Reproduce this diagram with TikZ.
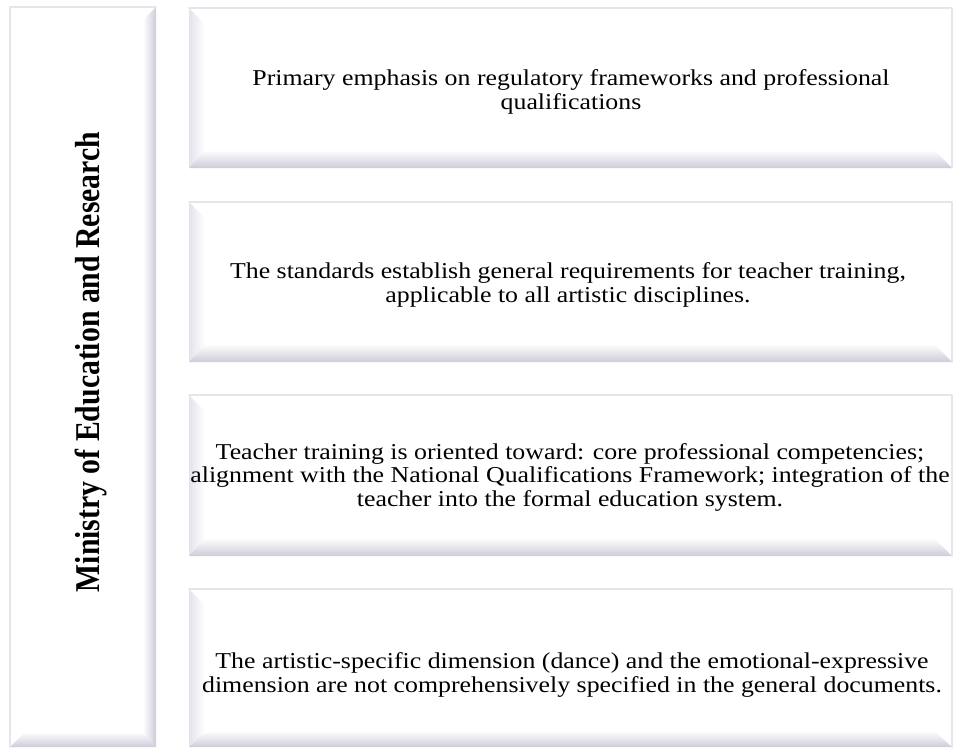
\documentclass[tikz,border=0pt]{standalone}
\usepackage{fontspec}
\usepackage{graphicx}
\setmainfont{Liberation Serif}
\newfontfamily\widefont[FakeStretch=1.14]{Liberation Serif}
\definecolor{bvlgrey}{rgb}{0.80,0.80,0.85}
\definecolor{bvlpale}{rgb}{0.89,0.89,0.93}
\definecolor{bvledge}{rgb}{0.90,0.90,0.93}
\tikzset{
  boxtext/.style={align=center,font=\widefont\fontsize{17}{17.6}\selectfont,inner sep=0pt},
  titletext/.style={rotate=90,font=\fontsize{22.3}{24}\selectfont\bfseries,inner sep=0pt},
  rim/.style={draw=bvledge,line width=1.5pt}
}
\begin{document}
\begin{tikzpicture}[line cap=round,line join=round,x=0.75pt,y=-0.75pt]
\useasboundingbox (0,0) rectangle (954,747);
% left column box
\fill[white] (10,7) rectangle (156,747);
\shade[left color=white,right color=bvlgrey] (156,7) -- (143,20) -- (143,732) -- (156,747) -- cycle;
\shade[top color=white,bottom color=bvlgrey] (10,747) -- (25,732) -- (143,732) -- (156,747) -- cycle;
\draw[rim] (156,7) -- (10,7) -- (10,747);
% right boxes
\fill[white] (189,8) rectangle (952,168);
\shade[left color=bvlpale,right color=white] (189,8) -- (205,24) -- (205,150) -- (189,168) -- cycle;
\shade[top color=white,bottom color=bvlgrey] (189,168) -- (205,150) -- (934,150) -- (952,168) -- cycle;
\draw[rim] (189,8) -- (952,8) -- (952,168);
\fill[white] (189,202) rectangle (952,362);
\shade[left color=bvlpale,right color=white] (189,202) -- (205,218) -- (205,344) -- (189,362) -- cycle;
\shade[top color=white,bottom color=bvlgrey] (189,362) -- (205,344) -- (934,344) -- (952,362) -- cycle;
\draw[rim] (189,202) -- (952,202) -- (952,362);
\fill[white] (189,395) rectangle (952,556);
\shade[left color=bvlpale,right color=white] (189,395) -- (205,411) -- (205,538) -- (189,556) -- cycle;
\shade[top color=white,bottom color=bvlgrey] (189,556) -- (205,538) -- (934,538) -- (952,556) -- cycle;
\draw[rim] (189,395) -- (952,395) -- (952,556);
\fill[white] (189,589) rectangle (952,747);
\shade[left color=bvlpale,right color=white] (189,589) -- (205,605) -- (205,731) -- (189,747) -- cycle;
\shade[top color=white,bottom color=bvlgrey] (189,747) -- (205,731) -- (934,731) -- (952,747) -- cycle;
\draw[rim] (189,589) -- (952,589) -- (952,747);
% labels
\node[titletext] (ministry) at (91,362) {\scalebox{1}[1.17]{Ministry of Education and Research}};
\node[boxtext] (emphasis) at (571,92) {Primary emphasis on regulatory frameworks and professional\\qualifications};
\node[boxtext] (standards) at (568,285) {The standards establish general requirements for teacher training,\\applicable to all artistic disciplines.};
\node[boxtext] (training) at (570,477) {Teacher training is oriented toward: core professional competencies;\\alignment with the National Qualifications Framework; integration of the\\teacher into the formal education system.};
\node[boxtext] (dimension) at (572,675) {The artistic-specific dimension (dance) and the emotional-expressive\\dimension are not comprehensively specified in the general documents.};
\end{tikzpicture}
\end{document}
